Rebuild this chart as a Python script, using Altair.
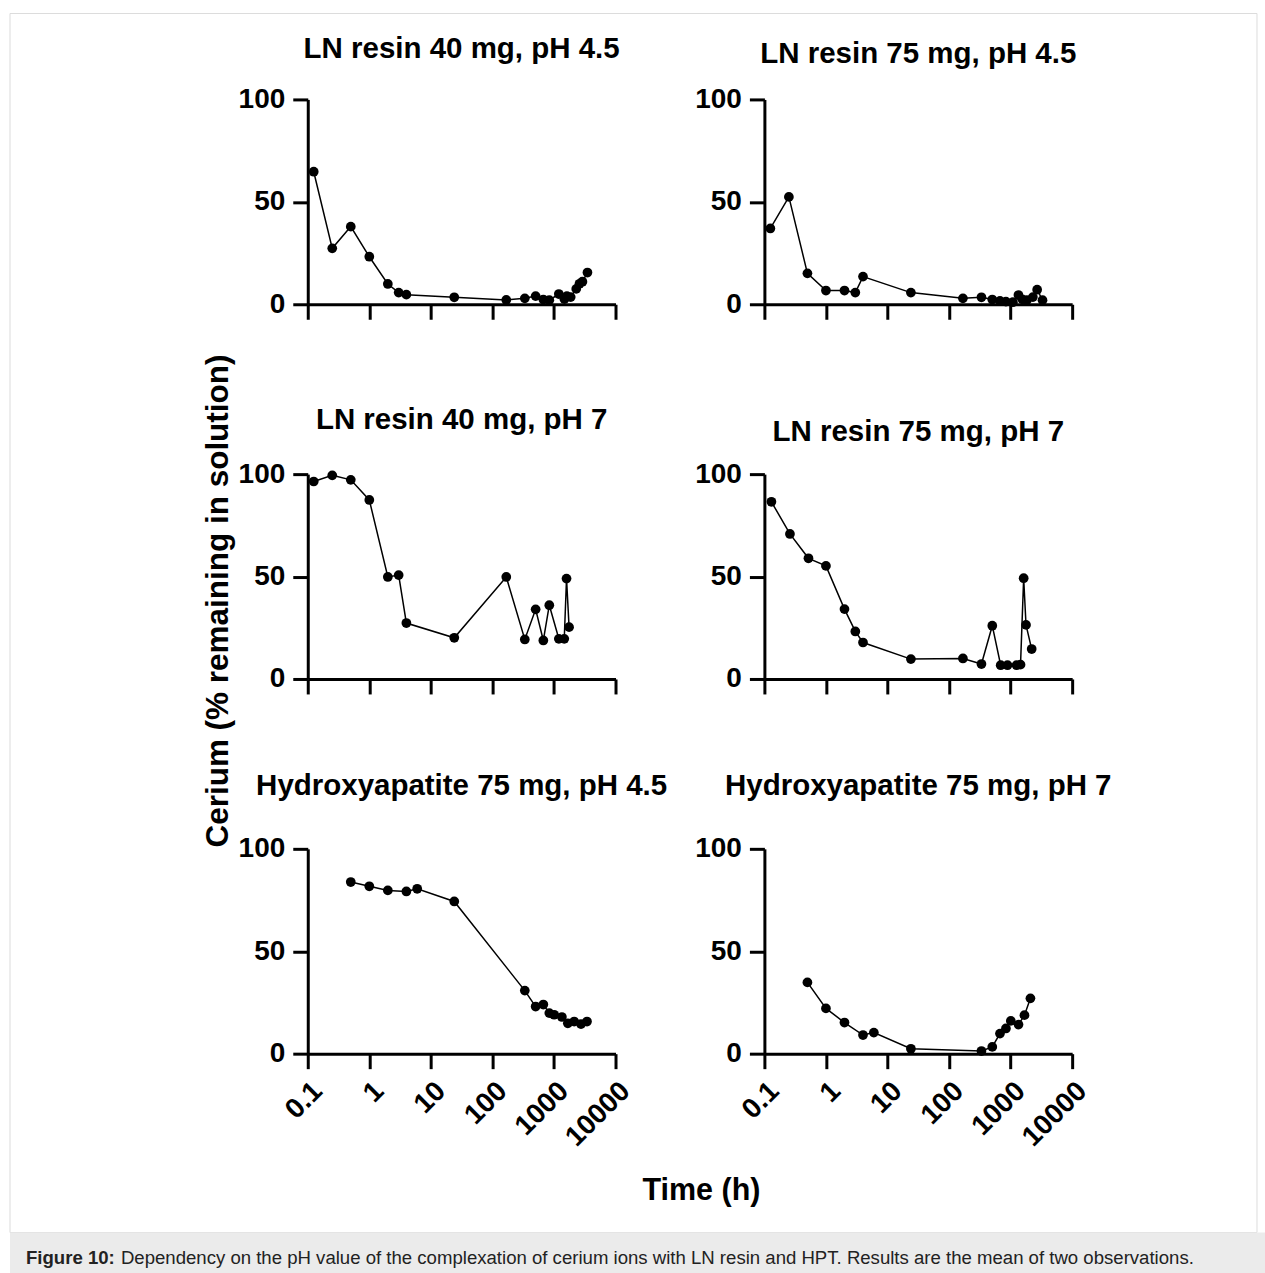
import altair as alt
import pandas as pd

FONT = "Liberation Sans"

# ---------------- data ----------------
PANEL_TITLES = [
    "LN resin 40 mg, pH 4.5",
    "LN resin 75 mg, pH 4.5",
    "LN resin 40 mg, pH 7",
    "LN resin 75 mg, pH 7",
    "Hydroxyapatite 75 mg, pH 4.5",
    "Hydroxyapatite 75 mg, pH 7",
]

time_1 = [0.125, 0.25, 0.5, 1, 2, 3, 4, 24, 168, 336, 504, 672, 840, 1200, 1480, 1620, 1870, 2300, 2600, 2900, 3500]
cerium_1 = [64.7, 27.3, 37.9, 23.2, 9.9, 5.7, 4.7, 3.4, 2.1, 2.9, 4.0, 2.3, 2.0, 5.0, 2.5, 4.0, 3.5, 7.5, 10.0, 11.0, 15.5]

time_2 = [0.125, 0.25, 0.5, 1, 2, 3, 4, 24, 168, 336, 504, 672, 840, 1090, 1340, 1550, 1840, 2300, 2700, 3300]
cerium_2 = [37.0, 52.4, 15.1, 6.7, 6.7, 5.7, 13.5, 5.7, 2.9, 3.4, 2.3, 1.6, 1.3, 1.0, 4.5, 2.4, 2.0, 3.5, 7.1, 2.0]

time_3 = [0.125, 0.25, 0.5, 1, 2, 3, 4, 24, 168, 336, 504, 672, 840, 1200, 1470, 1600, 1760]
cerium_3 = [96.4, 99.4, 97.2, 87.4, 49.8, 50.7, 27.3, 20.1, 49.8, 19.3, 34.0, 18.8, 36.0, 19.6, 19.6, 49.0, 25.3]

time_4 = [0.13, 0.26, 0.52, 1, 2, 3, 4, 24, 168, 336, 504, 690, 890, 1250, 1450, 1630, 1780, 2200]
cerium_4 = [86.5, 70.8, 58.9, 55.2, 34.1, 23.2, 17.8, 9.7, 10.0, 7.3, 26.0, 6.7, 6.7, 6.7, 7.0, 49.2, 26.4, 14.6]

time_5 = [0.5, 1, 2, 4, 6, 24, 336, 504, 672, 840, 1008, 1344, 1680, 2130, 2750, 3440]
cerium_5 = [83.8, 81.7, 79.7, 79.2, 80.5, 74.3, 30.8, 23.0, 24.0, 19.8, 19.0, 17.9, 14.8, 15.7, 14.4, 15.7]

time_6 = [0.5, 1, 2, 4, 6, 24, 336, 504, 672, 840, 1008, 1344, 1680, 2100]
cerium_6 = [34.8, 22.1, 15.2, 9.1, 10.3, 2.4, 1.3, 3.3, 9.8, 12.3, 16.0, 14.2, 18.8, 27.0]

TIMES = [time_1, time_2, time_3, time_4, time_5, time_6]
VALUES = [cerium_1, cerium_2, cerium_3, cerium_4, cerium_5, cerium_6]

X_TICKS = [0.1, 1, 10, 100, 1000, 10000]
Y_TICKS = [0, 50, 100]
Y_TITLE = "Cerium (% remaining in solution)"
X_TITLE = "Time (h)"
CAPTION_LEAD = "Figure 10:"
CAPTION_BODY = ("Dependency on the pH value of the complexation of cerium ions with LN resin "
                "and HPT. Results are the mean of two observations.")

# ---------------- layout ----------------
W, H = 308, 205
TITLE_BASELINE = [-41, -36, -45, -33, -54, -54]


def text_layer(s, x, y, size, weight="bold", angle=0, align="center",
               baseline="alphabetic", color="black"):
    return alt.Chart(pd.DataFrame({"label": [s]})).mark_text(
        font=FONT, fontSize=size, fontWeight=weight, angle=angle,
        align=align, baseline=baseline, color=color
    ).encode(text="label:N", x=alt.value(x), y=alt.value(y))


def rect_layer(x, x2, y, y2, **kw):
    return alt.Chart(pd.DataFrame({"k": [0]})).mark_rect(**kw).encode(
        x=alt.value(x), x2=alt.value(x2), y=alt.value(y), y2=alt.value(y2))


def panel(i):
    df = pd.DataFrame({"t": TIMES[i], "v": VALUES[i]})
    bottom = i >= 4
    xaxis = alt.Axis(values=X_TICKS, format="~g", labels=bottom,
                     labelAngle=-45, labelFlush=False, labelOverlap=False,
                     labelBound=False, title=None)
    yaxis = alt.Axis(values=Y_TICKS, title=None, labelOverlap=False, labelFlush=False)
    base = alt.Chart(df).encode(
        x=alt.X("t:Q", scale=alt.Scale(type="log", domain=[0.1, 10000], nice=False), axis=xaxis),
        y=alt.Y("v:Q", scale=alt.Scale(domain=[0, 100], nice=False, zero=False), axis=yaxis),
    )
    line = base.mark_line(color="black", strokeWidth=1.5)
    pts = base.mark_circle(size=95, color="black", opacity=1)
    layers = []
    if i == 0:
        layers.append(rect_layer(-298, 950, -86, 1134, fillOpacity=0,
                                 stroke="#dcdcdc", strokeWidth=1))
    if i == 4:
        layers.append(rect_layer(-298, 958, 384, 425, color="#ebebeb"))
        layers.append(text_layer(CAPTION_LEAD, -282, 415, 18.6, weight="bold",
                                 align="left", color="#222222"))
        layers.append(text_layer(CAPTION_BODY, -187, 415, 18.6, weight="normal",
                                 align="left", color="#222222"))
        layers.append(text_layer(X_TITLE, 394, 342, 30.5, baseline="middle"))
    if i == 2:
        layers.append(text_layer(Y_TITLE, -89, 127, 31.5, angle=270, baseline="middle"))
    layers += [line, pts,
               text_layer(PANEL_TITLES[i], 154, TITLE_BASELINE[i], 29.5)]
    return alt.layer(*layers).properties(width=W, height=H)


panels = [panel(i) for i in range(6)]

chart = alt.concat(
    *panels, columns=2, spacing={"row": 170, "column": 149}, bounds="flush"
).properties(
    padding={"left": 9, "top": 12, "right": 0, "bottom": 0},
    autosize=alt.AutoSizeParams(type="pad"),
    background="white",
).configure_axis(
    domainColor="black", domainWidth=3, tickColor="black", tickWidth=3,
    tickSize=15, labelFont=FONT, labelFontSize=28, labelFontWeight="bold",
    labelColor="black", grid=False, labelPadding=8,
).configure_view(strokeWidth=0)

chart.save("out.html", embed_options={"renderer": "svg", "actions": False})
